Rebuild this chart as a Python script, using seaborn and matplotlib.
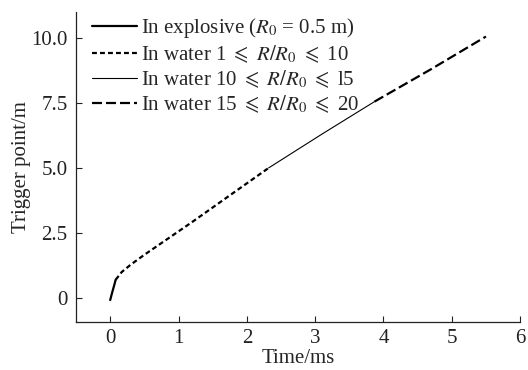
import numpy as np
import pandas as pd
import matplotlib
matplotlib.use("Agg")
import matplotlib.pyplot as plt
import seaborn as sns

# curve segments (time in ms, trigger point in m)
t_expl = [0.0, 0.03, 0.06, 0.08]
y_expl = [-0.08, 0.22, 0.5, 0.7]

t_w1 = [0.08, 0.17, 0.3, 0.5, 0.8, 1.2, 1.7, 2.32]
y_w1 = [0.7, 1.0, 1.28, 1.66, 2.2, 2.92, 3.85, 5.0]

t_w2 = [2.32, 3.1, 3.87]
y_w2 = [5.0, 6.3, 7.55]

t_w3 = [3.87, 4.7, 5.5]
y_w3 = [7.55, 8.8, 10.05]

labels = [r"In explosive ($R_0$ = 0.5 m)",
          r"In water 1 $\leqslant$ $R/R_0$ $\leqslant$ 10",
          r"In water 10 $\leqslant$ $R/R_0$ $\leqslant$ l5",
          r"In water 15 $\leqslant$ $R/R_0$ $\leqslant$ 20"]

xticks = [0, 1, 2, 3, 4, 5, 6]
yticks = [0, 2.5, 5.0, 7.5, 10.0]
ytick_labels = ["0", "2.5", "5.0", "7.5", "10.0"]

sns.set_style("ticks")
plt.rcParams["font.family"] = ["Liberation Serif", "DejaVu Serif"]
plt.rcParams["mathtext.fontset"] = "stix"

fig, ax = plt.subplots(figsize=(5.28, 3.70), dpi=100)
fig.subplots_adjust(left=0.144, right=0.985, bottom=0.130, top=0.968)

segs = [(t_expl, y_expl, dict(lw=1.6, ls="-")),
        (t_w1, y_w1, dict(lw=1.6, ls=(0, (2.2, 1.4)))),
        (t_w2, y_w2, dict(lw=0.8, ls="-")),
        (t_w3, y_w3, dict(lw=1.6, ls=(0, (4.5, 1.8))))]

for (t, y, st), lab in zip(segs, labels):
    df = pd.DataFrame({"t": t, "y": y})
    sns.lineplot(data=df, x="t", y="y", ax=ax, color="black", sort=False,
                 label=lab, linewidth=st["lw"], linestyle=st["ls"])

ax.set_xlim(-0.5, 6)
ax.set_ylim(-0.92, 11.0)
ax.set_xticks(xticks)
ax.set_yticks(yticks)
ax.set_yticklabels(ytick_labels)
ax.tick_params(direction="in", length=4, width=0.8, labelsize=15, colors="#222222")
ax.tick_params(axis="x", pad=5)
ax.tick_params(axis="y", pad=6)
for s in ["top", "right"]:
    ax.spines[s].set_visible(False)
for s in ["left", "bottom"]:
    ax.spines[s].set_linewidth(0.9)
    ax.spines[s].set_color("#222222")

ax.set_xlabel("Time/ms", fontsize=15, labelpad=0.5)
ax.set_ylabel("Trigger point/m", fontsize=15, labelpad=0)

ax.legend(loc="upper left", bbox_to_anchor=(0.035, 0.985), frameon=False,
          fontsize=15, handlelength=2.2, handletextpad=0.15,
          labelspacing=0.15, borderpad=0, borderaxespad=0)

fig.savefig("out.png", dpi=100)
